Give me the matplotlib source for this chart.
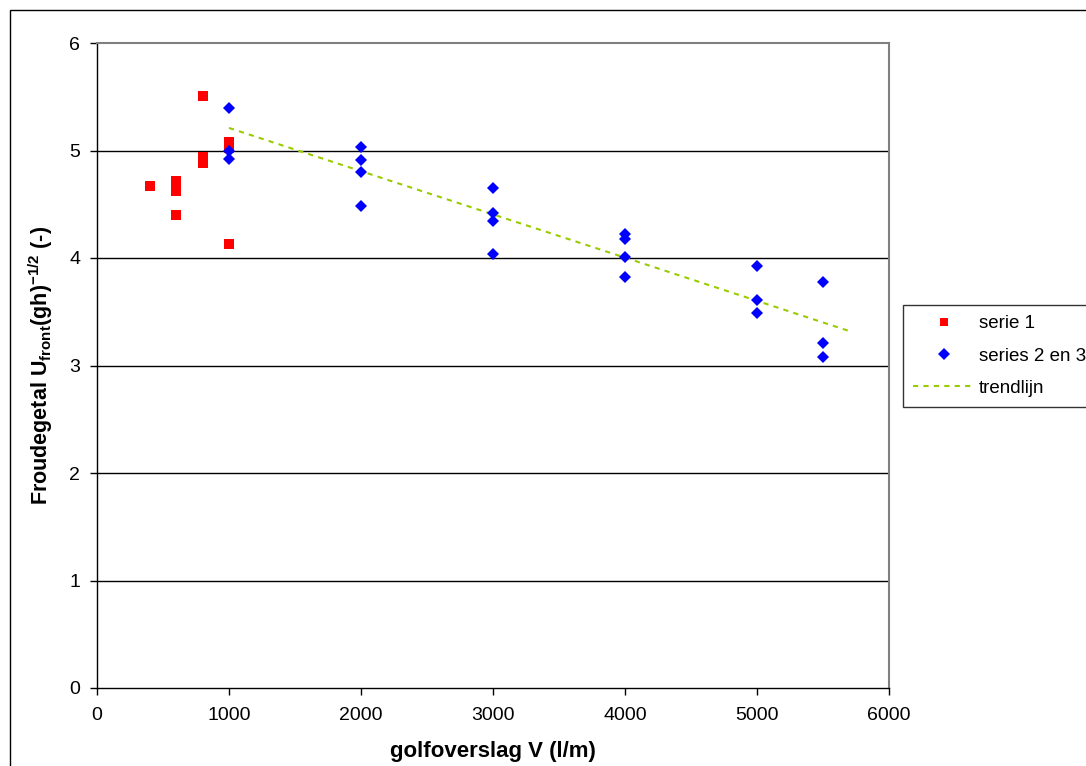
import numpy as np
import matplotlib
matplotlib.use("Agg")
import matplotlib.pyplot as plt
from matplotlib.patches import Rectangle
from matplotlib.lines import Line2D

plt.rcParams["font.family"] = ["Liberation Sans", "DejaVu Sans"]
plt.rcParams["mathtext.fontset"] = "custom"
plt.rcParams["mathtext.rm"] = "Liberation Sans:bold"
plt.rcParams["mathtext.it"] = "Liberation Sans:bold"
plt.rcParams["mathtext.bf"] = "Liberation Sans:bold"

# serie 1
serie1_x = [400, 600, 600, 600, 800, 800, 800, 1000, 1000, 1000]
serie1_y = [4.67, 4.72, 4.62, 4.40, 5.51, 4.94, 4.88, 5.08, 5.02, 4.13]

# series 2 en 3
series23_x = [1000, 1000, 1000,
              2000, 2000, 2000, 2000,
              3000, 3000, 3000, 3000,
              4000, 4000, 4000, 4000,
              5000, 5000, 5000,
              5500, 5500, 5500]
series23_y = [5.40, 5.00, 4.92,
              5.03, 4.91, 4.80, 4.48,
              4.65, 4.42, 4.34, 4.04,
              4.22, 4.18, 4.01, 3.82,
              3.93, 3.61, 3.49,
              3.78, 3.21, 3.08]

# trendlijn (linear, drawn from 1000 to 5700)
trend_x = [1000, 5700]
trend_y = [5.21, 3.32]

x_ticks = [0, 1000, 2000, 3000, 4000, 5000, 6000]
y_ticks = [0, 1, 2, 3, 4, 5, 6]

W, H = 1086, 766
fig = plt.figure(figsize=(W / 100, H / 100), dpi=100)
fig.patch.set_facecolor("white")

# outer chart frame
fig.add_artist(Rectangle((10 / W, -0.1), 1.2, 1 - 10 / H + 0.1,
                         transform=fig.transFigure, fill=False,
                         edgecolor="black", linewidth=1.0))

ax = fig.add_axes([97 / W, 1 - 688 / H, (889 - 97) / W, (688 - 43) / H])
ax.set_xlim(0, 6000)
ax.set_ylim(0, 6)
ax.set_xticks(x_ticks)
ax.set_yticks(y_ticks)
ax.tick_params(axis="both", direction="out", length=5, width=1,
               labelsize=14, colors="black")
ax.tick_params(axis="x", pad=9)
ax.tick_params(axis="y", pad=7)

for yv in y_ticks[1:-1]:
    ax.axhline(yv, color="black", linewidth=1.0, zorder=1)

for s in ("left", "bottom"):
    ax.spines[s].set_color("black")
    ax.spines[s].set_linewidth(1.0)
for s in ("top", "right"):
    ax.spines[s].set_color("#808080")
    ax.spines[s].set_linewidth(1.5)

ax.plot(trend_x, trend_y, color="#99CC00", linewidth=1.5,
        linestyle=(0, (2.5, 2.5)), zorder=2)
ax.plot(serie1_x, serie1_y, linestyle="none", marker="s", markersize=6.8,
        markerfacecolor="#FF0000", markeredgewidth=0, zorder=3)
ax.plot(series23_x, series23_y, linestyle="none", marker="D", markersize=6.0,
        markerfacecolor="#0000FF", markeredgewidth=0, zorder=4)

ax.set_xlabel("golfoverslag V (l/m)", fontsize=16, fontweight="bold", labelpad=12)
ax.set_ylabel(r"Froudegetal U$_{\mathrm{front}}$(gh)$^{\mathrm{-1/2}}$ (-)",
              fontsize=15.5, fontweight="bold", labelpad=10)

handles = [
    Line2D([], [], linestyle="none", marker="s", markersize=6.3,
           markerfacecolor="#FF0000", markeredgewidth=0),
    Line2D([], [], linestyle="none", marker="D", markersize=5.8,
           markerfacecolor="#0000FF", markeredgewidth=0),
    Line2D([], [], color="#99CC00", linewidth=1.5, linestyle=(0, (2.5, 2.5))),
]
leg = fig.legend(handles, ["serie 1", "series 2 en 3", "trendlijn"],
                 loc="upper left", bbox_to_anchor=(903 / W, 1 - 305 / H),
                 bbox_transform=fig.transFigure, fontsize=13.5,
                 frameon=True, fancybox=False, borderaxespad=0,
                 handlelength=3.3, handletextpad=0.2, labelspacing=0.8,
                 borderpad=0.55)
leg.get_frame().set_edgecolor("black")
leg.get_frame().set_linewidth(1.0)

fig.savefig("out.png", dpi=100)
